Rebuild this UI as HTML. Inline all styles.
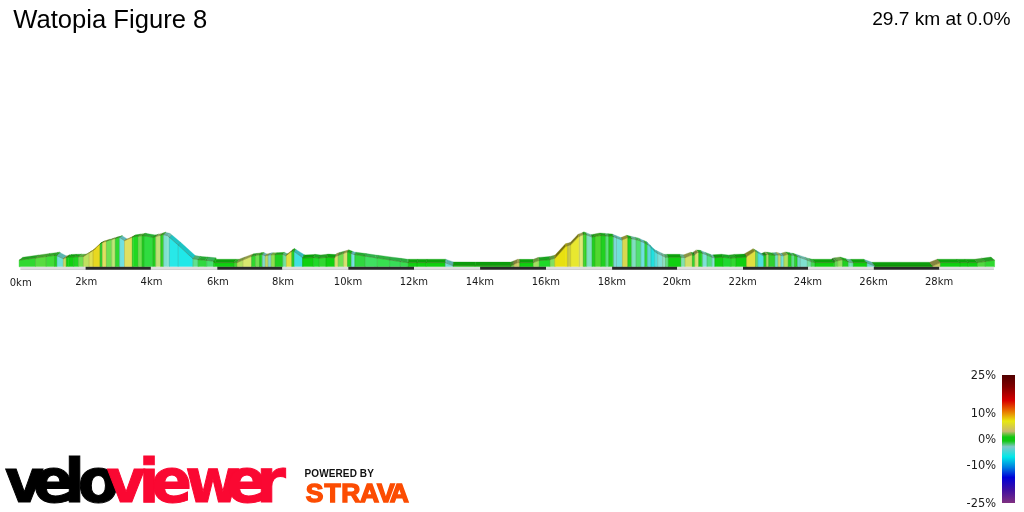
<!DOCTYPE html>
<html lang="en">
<head>
<meta charset="utf-8">
<title>Watopia Figure 8</title>
<style>
html,body{margin:0;padding:0;background:#fff;}
body{width:1024px;height:512px;position:relative;overflow:hidden;font-family:"Liberation Sans",sans-serif;color:#000;}
.title{position:absolute;left:13.3px;top:3.6px;font-size:25.6px;line-height:30px;white-space:nowrap;}
.stat{position:absolute;right:13.5px;top:7.6px;font-size:19.15px;line-height:22px;white-space:nowrap;}
svg.prof{position:absolute;left:0;top:0;}
.xl text{font-family:"DejaVu Sans","Liberation Sans",sans-serif;font-size:10px;fill:#1a1a1a;}
.lg text{font-family:"DejaVu Sans","Liberation Sans",sans-serif;font-size:11.4px;fill:#1a1a1a;}
.logo{position:absolute;left:0;top:440px;font-family:"DejaVu Sans","Liberation Sans",sans-serif;font-weight:bold;font-size:60px;stroke-width:1px;}
.pw{position:absolute;left:304.6px;top:468px;font-weight:bold;font-size:10px;line-height:12px;letter-spacing:0.1px;white-space:nowrap;color:#111;}
.strava{position:absolute;left:295px;top:475px;font-family:"Liberation Sans",sans-serif;font-weight:bold;font-size:26.5px;fill:#fc4c02;stroke:#fc4c02;stroke-width:1.4px;}
</style>
</head>
<body>
<div class="title">Watopia Figure 8</div>
<div class="stat">29.7 km at 0.0%</div>
<svg class="prof" width="1024" height="512" viewBox="0 0 1024 512">
<g stroke-width="0.3" stroke-linejoin="round">
<polygon points="19.10,260.20 35.50,258.00 38.99,254.98 22.71,257.25" fill="#23a023" stroke="#23a023"/>
<polygon points="35.50,258.00 46.25,256.50 49.66,253.44 38.99,254.98" fill="#41a32f" stroke="#41a32f"/>
<polygon points="46.25,256.50 54.50,255.48 57.84,252.39 49.66,253.44" fill="#2fa429" stroke="#2fa429"/>
<polygon points="54.50,255.48 56.00,255.30 59.33,252.20 57.84,252.39" fill="#179b17" stroke="#179b17"/>
<polygon points="56.00,255.30 57.00,255.77 60.33,252.72 59.33,252.20" fill="#1aa91a" stroke="#1aa91a"/>
<polygon points="57.00,255.77 63.30,258.70 66.58,255.96 60.33,252.72" fill="#5bb6af" stroke="#5bb6af"/>
<polygon points="63.30,258.70 66.00,257.60 69.26,255.00 66.58,255.96" fill="#869045" stroke="#869045"/>
<polygon points="66.00,257.60 66.30,257.53 69.56,254.94 69.26,255.00" fill="#909b4a" stroke="#909b4a"/>
<polygon points="66.30,257.53 68.70,257.00 71.94,254.42 69.56,254.94" fill="#0b950b" stroke="#0b950b"/>
<polygon points="68.70,257.00 73.60,256.83 76.80,254.29 71.94,254.42" fill="#0ca00c" stroke="#0ca00c"/>
<polygon points="73.60,256.83 78.50,256.67 81.67,254.16 76.80,254.29" fill="#18a318" stroke="#18a318"/>
<polygon points="78.50,256.67 83.40,256.50 86.53,254.12 81.67,254.16" fill="#56ac3d" stroke="#56ac3d"/>
<polygon points="83.40,256.50 89.20,252.85 92.29,250.67 86.53,254.12" fill="#75883a" stroke="#75883a"/>
<polygon points="89.20,252.85 93.10,250.40 96.16,248.36 92.29,250.67" fill="#888830" stroke="#888830"/>
<polygon points="93.10,250.40 100.00,243.94 103.01,242.14 96.16,248.36" fill="#7a7110" stroke="#7a7110"/>
<polygon points="100.00,243.94 100.90,243.10 103.90,241.31 103.01,242.14" fill="#196d19" stroke="#196d19"/>
<polygon points="100.90,243.10 102.40,242.55 105.39,240.79 103.90,241.31" fill="#208d20" stroke="#208d20"/>
<polygon points="102.40,242.55 105.00,241.60 107.97,239.88 105.39,240.79" fill="#989841" stroke="#989841"/>
<polygon points="105.00,241.60 106.40,241.17 109.36,239.47 107.97,239.88" fill="#9c9c42" stroke="#9c9c42"/>
<polygon points="106.40,241.17 111.80,239.51 114.72,237.88 109.36,239.47" fill="#4e9c37" stroke="#4e9c37"/>
<polygon points="111.80,239.51 115.30,238.43 118.20,236.86 114.72,237.88" fill="#85a153" stroke="#85a153"/>
<polygon points="115.30,238.43 119.30,237.20 122.17,235.69 118.20,236.86" fill="#219621" stroke="#219621"/>
<polygon points="119.30,237.20 119.60,237.40 122.46,235.89 122.17,235.69" fill="#27b227" stroke="#27b227"/>
<polygon points="119.60,237.40 124.50,240.60 127.33,238.95 122.46,235.89" fill="#5cb8b8" stroke="#5cb8b8"/>
<polygon points="124.50,240.60 132.30,237.23 135.07,235.32 127.33,238.95" fill="#94943f" stroke="#94943f"/>
<polygon points="132.30,237.23 133.30,236.80 136.06,234.86 135.07,235.32" fill="#158f15" stroke="#158f15"/>
<polygon points="133.30,236.80 138.20,236.19 140.93,234.07 136.06,234.86" fill="#17a117" stroke="#17a117"/>
<polygon points="138.20,236.19 142.10,235.71 144.80,233.45 140.93,234.07" fill="#53a73b" stroke="#53a73b"/>
<polygon points="142.10,235.71 143.00,235.60 145.69,233.30 144.80,233.45" fill="#179b17" stroke="#179b17"/>
<polygon points="143.00,235.60 144.00,235.77 146.68,233.48 145.69,233.30" fill="#19a419" stroke="#19a419"/>
<polygon points="144.00,235.77 152.90,237.30 155.52,235.05 146.68,233.48" fill="#26ae32" stroke="#26ae32"/>
<polygon points="152.90,237.30 155.80,236.49 158.40,234.25 155.52,235.05" fill="#169216" stroke="#169216"/>
<polygon points="155.80,236.49 160.70,235.12 163.26,232.90 158.40,234.25" fill="#879d54" stroke="#879d54"/>
<polygon points="160.70,235.12 162.90,234.50 165.44,232.30 163.26,232.90" fill="#219216" stroke="#219216"/>
<polygon points="162.90,234.50 163.60,234.68 166.14,232.46 165.44,232.30" fill="#26a619" stroke="#26a619"/>
<polygon points="163.60,234.68 167.50,235.70 170.01,233.34 166.14,232.46" fill="#66b2a6" stroke="#66b2a6"/>
<polygon points="167.50,235.70 169.50,237.44 171.99,235.01 170.01,233.34" fill="#6bbcae" stroke="#6bbcae"/>
<polygon points="169.50,237.44 178.20,245.00 180.63,242.26 171.99,235.01" fill="#21c3c3" stroke="#21c3c3"/>
<polygon points="178.20,245.00 192.90,258.70 195.22,255.56 180.63,242.26" fill="#1bc4c4" stroke="#1bc4c4"/>
<polygon points="192.90,258.70 198.10,259.59 200.38,256.36 195.22,255.56" fill="#4cb172" stroke="#4cb172"/>
<polygon points="198.10,259.59 198.75,259.70 201.03,256.46 200.38,256.36" fill="#26ab32" stroke="#26ab32"/>
<polygon points="198.75,259.70 205.00,260.20 207.23,256.89 201.03,256.46" fill="#25a932" stroke="#25a932"/>
<polygon points="205.00,260.20 206.70,260.40 208.92,257.07 207.23,256.89" fill="#25aa32" stroke="#25aa32"/>
<polygon points="206.70,260.40 213.60,261.20 215.77,257.80 208.92,257.07" fill="#38b058" stroke="#38b058"/>
<polygon points="213.60,261.20 214.50,262.60 216.66,259.20 215.77,257.80" fill="#0db20d" stroke="#0db20d"/>
<polygon points="214.50,262.60 234.00,262.60 236.02,259.20 216.66,259.20" fill="#0ca20c" stroke="#0ca20c"/>
<polygon points="234.00,262.60 237.00,262.60 239.00,259.20 236.02,259.20" fill="#31a825" stroke="#31a825"/>
<polygon points="237.00,262.60 242.90,260.05 244.85,257.00 239.00,259.20" fill="#74943f" stroke="#74943f"/>
<polygon points="242.90,260.05 251.60,256.30 253.49,253.87 244.85,257.00" fill="#8f994a" stroke="#8f994a"/>
<polygon points="251.60,256.30 255.50,255.50 257.36,253.30 253.49,253.87" fill="#229c22" stroke="#229c22"/>
<polygon points="255.50,255.50 259.50,254.69 261.33,252.70 257.36,253.30" fill="#51a239" stroke="#51a239"/>
<polygon points="259.50,254.69 261.40,254.30 263.22,252.40 261.33,252.70" fill="#179617" stroke="#179617"/>
<polygon points="261.40,254.30 262.40,254.68 264.21,252.78 263.22,252.40" fill="#19a719" stroke="#19a719"/>
<polygon points="262.40,254.68 265.30,255.80 267.09,253.89 264.21,252.78" fill="#67aea7" stroke="#67aea7"/>
<polygon points="265.30,255.80 268.20,255.18 269.97,253.26 267.09,253.89" fill="#8a9c45" stroke="#8a9c45"/>
<polygon points="268.20,255.18 270.00,254.80 271.75,252.87 269.97,253.26" fill="#5c9c96" stroke="#5c9c96"/>
<polygon points="270.00,254.80 271.20,254.75 272.94,252.82 271.75,252.87" fill="#62a6a0" stroke="#62a6a0"/>
<polygon points="271.20,254.75 275.10,254.60 276.81,252.66 272.94,252.82" fill="#6eac3d" stroke="#6eac3d"/>
<polygon points="275.10,254.60 282.90,254.30 284.56,252.33 276.81,252.66" fill="#18a018" stroke="#18a018"/>
<polygon points="282.90,254.30 285.80,255.80 287.44,253.82 284.56,252.33" fill="#5bb682" stroke="#5bb682"/>
<polygon points="285.80,255.80 286.30,255.42 287.93,253.44 287.44,253.82" fill="#40805c" stroke="#40805c"/>
<polygon points="286.30,255.42 291.80,251.26 293.39,249.26 287.93,253.44" fill="#808024" stroke="#808024"/>
<polygon points="291.80,251.26 292.80,250.50 294.38,248.50 293.39,249.26" fill="#127712" stroke="#127712"/>
<polygon points="292.80,250.50 294.30,251.59 295.87,249.45 294.38,248.50" fill="#1aac1a" stroke="#1aac1a"/>
<polygon points="294.30,251.59 302.10,257.25 303.61,254.25 295.87,249.45" fill="#35baba" stroke="#35baba"/>
<polygon points="302.10,257.25 302.60,257.67 304.11,254.61 303.61,254.25" fill="#35bbbb" stroke="#35bbbb"/>
<polygon points="302.60,257.67 303.00,258.00 304.51,254.90 304.11,254.61" fill="#0dae0d" stroke="#0dae0d"/>
<polygon points="303.00,258.00 313.30,257.53 314.73,254.40 304.51,254.90" fill="#0c9f0c" stroke="#0c9f0c"/>
<polygon points="313.30,257.53 314.00,257.50 315.43,254.36 314.73,254.40" fill="#18a51e" stroke="#18a51e"/>
<polygon points="314.00,257.50 319.00,258.10 320.39,254.95 315.43,254.36" fill="#19aa1f" stroke="#19aa1f"/>
<polygon points="319.00,258.10 319.20,258.08 320.59,254.93 320.39,254.95" fill="#18a21e" stroke="#18a21e"/>
<polygon points="319.20,258.08 326.00,257.40 327.34,254.23 320.59,254.93" fill="#24a224" stroke="#24a224"/>
<polygon points="326.00,257.40 327.00,257.30 328.33,254.12 327.34,254.23" fill="#0c9c0c" stroke="#0c9c0c"/>
<polygon points="327.00,257.30 334.80,257.70 336.07,254.57 328.33,254.12" fill="#0ca20c" stroke="#0ca20c"/>
<polygon points="334.80,257.70 335.80,256.30 337.07,253.25 336.07,254.57" fill="#6c7038" stroke="#6c7038"/>
<polygon points="335.80,256.30 338.20,255.40 339.45,252.56 337.07,253.25" fill="#92974b" stroke="#92974b"/>
<polygon points="338.20,255.40 343.60,253.37 344.81,250.99 339.45,252.56" fill="#4b9736" stroke="#4b9736"/>
<polygon points="343.60,253.37 347.50,251.90 348.68,249.86 344.81,250.99" fill="#92974b" stroke="#92974b"/>
<polygon points="347.50,251.90 351.40,253.49 352.55,251.32 348.68,249.86" fill="#19a819" stroke="#19a819"/>
<polygon points="351.40,253.49 353.40,254.30 354.54,252.03 352.55,251.32" fill="#5ab5b5" stroke="#5ab5b5"/>
<polygon points="353.40,254.30 354.80,254.52 355.93,252.18 354.54,252.03" fill="#58b1b1" stroke="#58b1b1"/>
<polygon points="354.80,254.52 365.10,256.14 366.15,253.58 355.93,252.18" fill="#25aa32" stroke="#25aa32"/>
<polygon points="365.10,256.14 375.00,257.70 375.98,254.97 366.15,253.58" fill="#32b14b" stroke="#32b14b"/>
<polygon points="375.00,257.70 377.30,258.05 378.26,255.28 375.98,254.97" fill="#32b14b" stroke="#32b14b"/>
<polygon points="377.30,258.05 389.60,259.92 390.47,256.92 378.26,255.28" fill="#2cb13f" stroke="#2cb13f"/>
<polygon points="389.60,259.92 400.40,261.57 401.19,258.33 390.47,256.92" fill="#2cad45" stroke="#2cad45"/>
<polygon points="400.40,261.57 407.20,262.60 407.94,259.22 401.19,258.33" fill="#2cad3f" stroke="#2cad3f"/>
<polygon points="407.20,262.60 408.20,262.60 408.93,259.20 407.94,259.22" fill="#2bab3e" stroke="#2bab3e"/>
<polygon points="408.20,262.60 417.00,262.60 417.67,259.20 408.93,259.20" fill="#0ca20c" stroke="#0ca20c"/>
<polygon points="417.00,262.60 426.30,262.60 426.90,259.20 417.67,259.20" fill="#0ca20c" stroke="#0ca20c"/>
<polygon points="426.30,262.60 445.30,262.60 445.76,259.19 426.90,259.20" fill="#0ca20c" stroke="#0ca20c"/>
<polygon points="445.30,262.60 446.30,263.10 446.75,259.65 445.76,259.19" fill="#5bb0a9" stroke="#5bb0a9"/>
<polygon points="446.30,263.10 453.10,265.60 453.50,261.90 446.75,259.65" fill="#5aaea7" stroke="#5aaea7"/>
<polygon points="453.10,265.60 475.00,265.70 475.24,262.00 453.50,261.90" fill="#0c9c0c" stroke="#0c9c0c"/>
<polygon points="475.00,265.70 510.90,265.80 510.87,262.10 475.24,262.00" fill="#0c9c0c" stroke="#0c9c0c"/>
<polygon points="510.90,265.80 513.80,264.44 513.75,260.90 510.87,262.10" fill="#3e8729" stroke="#3e8729"/>
<polygon points="513.80,264.44 517.70,262.60 517.62,259.28 513.75,260.90" fill="#82823e" stroke="#82823e"/>
<polygon points="517.70,262.60 519.70,262.60 519.61,259.31 517.62,259.28" fill="#9c9c4a" stroke="#9c9c4a"/>
<polygon points="519.70,262.60 533.40,262.60 533.20,259.35 519.61,259.31" fill="#0ca20c" stroke="#0ca20c"/>
<polygon points="533.40,262.60 538.20,260.70 537.97,257.46 533.20,259.35" fill="#6b9640" stroke="#6b9640"/>
<polygon points="538.20,260.70 539.20,260.62 538.96,257.38 537.97,257.46" fill="#79a948" stroke="#79a948"/>
<polygon points="539.20,260.62 550.00,259.70 549.68,256.50 538.96,257.38" fill="#18a31e" stroke="#18a31e"/>
<polygon points="550.00,259.70 554.80,258.13 554.45,255.19 549.68,256.50" fill="#589a42" stroke="#589a42"/>
<polygon points="554.80,258.13 555.50,257.90 555.14,254.99 554.45,255.19" fill="#a09a0b" stroke="#a09a0b"/>
<polygon points="555.50,257.90 565.90,246.20 565.46,243.81 555.14,254.99" fill="#747008" stroke="#747008"/>
<polygon points="565.90,246.20 567.70,245.69 567.25,243.31 565.46,243.81" fill="#a39d0b" stroke="#a39d0b"/>
<polygon points="567.70,245.69 570.60,244.86 570.13,242.52 567.25,243.31" fill="#8c8c38" stroke="#8c8c38"/>
<polygon points="570.60,244.86 570.80,244.80 570.33,242.46 570.13,242.52" fill="#a3a321" stroke="#a3a321"/>
<polygon points="570.80,244.80 578.70,236.50 578.17,234.24 570.33,242.46" fill="#747418" stroke="#747418"/>
<polygon points="578.70,236.50 579.40,236.21 578.86,233.96 578.17,234.24" fill="#9b9b20" stroke="#9b9b20"/>
<polygon points="579.40,236.21 583.30,234.60 582.74,232.39 578.86,233.96" fill="#959b50" stroke="#959b50"/>
<polygon points="583.30,234.60 584.50,234.10 583.93,231.89 582.74,232.39" fill="#208b15" stroke="#208b15"/>
<polygon points="584.50,234.10 586.70,234.95 586.11,232.70 583.93,231.89" fill="#26a719" stroke="#26a719"/>
<polygon points="586.70,234.95 592.00,237.00 591.37,234.65 586.11,232.70" fill="#67b49a" stroke="#67b49a"/>
<polygon points="592.00,237.00 592.10,236.98 591.47,234.63 591.37,234.65" fill="#5da48c" stroke="#5da48c"/>
<polygon points="592.10,236.98 595.00,236.47 594.35,234.06 591.47,234.63" fill="#179817" stroke="#179817"/>
<polygon points="595.00,236.47 600.50,235.50 599.81,233.00 594.35,234.06" fill="#3a9e23" stroke="#3a9e23"/>
<polygon points="600.50,235.50 600.90,235.53 600.21,233.03 599.81,233.00" fill="#3ea925" stroke="#3ea925"/>
<polygon points="600.90,235.53 605.80,235.89 605.07,233.41 600.21,233.03" fill="#19a319" stroke="#19a319"/>
<polygon points="605.80,235.89 608.70,236.10 607.95,233.63 605.07,233.41" fill="#4baf64" stroke="#4baf64"/>
<polygon points="608.70,236.10 612.80,236.40 612.02,233.95 607.95,233.63" fill="#19a319" stroke="#19a319"/>
<polygon points="612.80,236.40 613.60,236.72 612.81,234.27 612.02,233.95" fill="#19a819" stroke="#19a819"/>
<polygon points="613.60,236.72 616.50,237.88 615.69,235.44 612.81,234.27" fill="#67aeae" stroke="#67aeae"/>
<polygon points="616.50,237.88 621.80,240.00 620.95,237.58 615.69,235.44" fill="#5ab4ae" stroke="#5ab4ae"/>
<polygon points="621.80,240.00 622.40,239.76 621.55,237.34 620.95,237.58" fill="#4b9690" stroke="#4b9690"/>
<polygon points="622.40,239.76 627.50,237.70 626.61,235.30 621.55,237.34" fill="#909035" stroke="#909035"/>
<polygon points="627.50,237.70 627.80,237.77 626.91,235.36 626.61,235.30" fill="#acac3f" stroke="#acac3f"/>
<polygon points="627.80,237.77 631.70,238.69 630.78,236.25 626.91,235.36" fill="#19a519" stroke="#19a519"/>
<polygon points="631.70,238.69 636.10,239.72 635.15,237.24 630.78,236.25" fill="#65b298" stroke="#65b298"/>
<polygon points="636.10,239.72 639.00,240.40 638.02,237.90 635.15,237.24" fill="#3fb259" stroke="#3fb259"/>
<polygon points="639.00,240.40 640.90,241.27 639.91,238.74 638.02,237.90" fill="#40b55a" stroke="#40b55a"/>
<polygon points="640.90,241.27 644.80,243.04 643.78,240.49 639.91,238.74" fill="#5ab5b5" stroke="#5ab5b5"/>
<polygon points="644.80,243.04 647.60,244.32 646.56,241.74 643.78,240.49" fill="#26af33" stroke="#26af33"/>
<polygon points="647.60,244.32 648.00,244.50 646.96,241.92 646.56,241.74" fill="#4dafaf" stroke="#4dafaf"/>
<polygon points="648.00,244.50 651.00,247.54 649.94,244.92 646.96,241.92" fill="#51b7b7" stroke="#51b7b7"/>
<polygon points="651.00,247.54 654.80,251.39 653.71,248.68 649.94,244.92" fill="#1bbebe" stroke="#1bbebe"/>
<polygon points="654.80,251.39 655.80,252.40 654.70,249.67 653.71,248.68" fill="#44bebe" stroke="#44bebe"/>
<polygon points="655.80,252.40 657.70,253.35 656.59,250.58 654.70,249.67" fill="#41b6b6" stroke="#41b6b6"/>
<polygon points="657.70,253.35 662.60,255.80 661.45,252.92 656.59,250.58" fill="#68b6b0" stroke="#68b6b0"/>
<polygon points="662.60,255.80 665.50,257.25 664.33,254.31 661.45,252.92" fill="#75b69c" stroke="#75b69c"/>
<polygon points="665.50,257.25 668.40,257.25 667.21,254.30 664.33,254.31" fill="#4aae63" stroke="#4aae63"/>
<polygon points="668.40,257.25 681.10,257.25 679.81,254.30 667.21,254.30" fill="#0ca20c" stroke="#0ca20c"/>
<polygon points="681.10,257.25 685.00,257.70 683.68,254.86 679.81,254.30" fill="#64b08a" stroke="#64b08a"/>
<polygon points="685.00,257.70 691.90,254.80 690.53,252.14 683.68,254.86" fill="#8a9545" stroke="#8a9545"/>
<polygon points="691.90,254.80 692.40,254.93 691.03,252.28 690.53,252.14" fill="#a6b253" stroke="#a6b253"/>
<polygon points="692.40,254.93 693.80,255.30 692.42,252.69 691.03,252.28" fill="#19a619" stroke="#19a619"/>
<polygon points="693.80,255.30 694.80,254.56 693.41,251.97 692.42,252.69" fill="#127812" stroke="#127812"/>
<polygon points="694.80,254.56 697.70,252.40 696.29,249.89 693.41,251.97" fill="#7d8140" stroke="#7d8140"/>
<polygon points="697.70,252.40 698.70,252.53 697.28,250.01 696.29,249.89" fill="#aab058" stroke="#aab058"/>
<polygon points="698.70,252.53 701.60,252.90 700.16,250.33 697.28,250.01" fill="#19a419" stroke="#19a419"/>
<polygon points="701.60,252.90 702.60,253.31 701.15,250.71 700.16,250.33" fill="#19a819" stroke="#19a819"/>
<polygon points="702.60,253.31 707.00,255.10 705.52,252.42 701.15,250.71" fill="#67b5ae" stroke="#67b5ae"/>
<polygon points="707.00,255.10 711.90,257.09 710.39,254.31 705.52,252.42" fill="#40b567" stroke="#40b567"/>
<polygon points="711.90,257.09 713.40,257.70 711.87,254.89 710.39,254.31" fill="#67b5a8" stroke="#67b5a8"/>
<polygon points="713.40,257.70 714.80,257.64 713.26,254.80 711.87,254.89" fill="#62ab9f" stroke="#62ab9f"/>
<polygon points="714.80,257.64 723.10,257.25 721.50,254.23 713.26,254.80" fill="#0c9f0c" stroke="#0c9f0c"/>
<polygon points="723.10,257.25 730.00,258.20 728.35,255.02 721.50,254.23" fill="#19aa25" stroke="#19aa25"/>
<polygon points="730.00,258.20 730.90,258.12 729.24,254.92 728.35,255.02" fill="#18a324" stroke="#18a324"/>
<polygon points="730.90,258.12 735.80,257.70 734.11,254.39 729.24,254.92" fill="#24a324" stroke="#24a324"/>
<polygon points="735.80,257.70 746.20,257.25 744.43,254.08 734.11,254.39" fill="#0c9f0c" stroke="#0c9f0c"/>
<polygon points="746.20,257.25 746.70,256.77 744.93,253.66 744.43,254.08" fill="#086c08" stroke="#086c08"/>
<polygon points="746.70,256.77 747.20,256.30 745.42,253.25 744.93,253.66" fill="#757521" stroke="#757521"/>
<polygon points="747.20,256.30 755.00,250.90 753.17,248.69 745.42,253.25" fill="#848425" stroke="#848425"/>
<polygon points="755.00,250.90 755.50,251.20 753.66,248.97 753.17,248.69" fill="#b7b734" stroke="#b7b734"/>
<polygon points="755.50,251.20 757.90,252.61 756.05,250.36 753.66,248.97" fill="#4eb14e" stroke="#4eb14e"/>
<polygon points="757.90,252.61 763.30,255.80 761.41,253.47 756.05,250.36" fill="#41b7b7" stroke="#41b7b7"/>
<polygon points="763.30,255.80 763.80,255.61 761.90,253.27 761.41,253.47" fill="#369797" stroke="#369797"/>
<polygon points="763.80,255.61 766.25,254.67 764.33,252.29 761.90,253.27" fill="#158c15" stroke="#158c15"/>
<polygon points="766.25,254.67 767.20,254.30 765.28,251.91 764.33,252.29" fill="#6c9240" stroke="#6c9240"/>
<polygon points="767.20,254.30 768.70,254.52 766.77,252.12 765.28,251.91" fill="#7eaa4b" stroke="#7eaa4b"/>
<polygon points="768.70,254.52 774.00,255.30 772.03,252.90 766.77,252.12" fill="#25a425" stroke="#25a425"/>
<polygon points="774.00,255.30 775.00,255.20 773.02,252.80 772.03,252.90" fill="#249c24" stroke="#249c24"/>
<polygon points="775.00,255.20 778.00,254.89 776.00,252.49 773.02,252.80" fill="#54a890" stroke="#54a890"/>
<polygon points="778.00,254.89 778.90,254.80 776.89,252.40 776.00,252.49" fill="#96a254" stroke="#96a254"/>
<polygon points="778.90,254.80 780.90,255.30 778.88,252.90 776.89,252.40" fill="#9fac59" stroke="#9fac59"/>
<polygon points="780.90,255.30 782.90,255.80 780.86,253.40 778.88,252.90" fill="#59b2ac" stroke="#59b2ac"/>
<polygon points="782.90,255.80 783.80,255.52 781.75,253.12 780.86,253.40" fill="#4d9b96" stroke="#4d9b96"/>
<polygon points="783.80,255.52 787.70,254.30 785.63,251.90 781.75,253.12" fill="#7a9b42" stroke="#7a9b42"/>
<polygon points="787.70,254.30 788.20,254.40 786.12,252.00 785.63,251.90" fill="#8bb14c" stroke="#8bb14c"/>
<polygon points="788.20,254.40 791.60,255.05 789.50,252.65 786.12,252.00" fill="#19a519" stroke="#19a519"/>
<polygon points="791.60,255.05 794.60,255.63 792.47,253.23 789.50,252.65" fill="#4cb172" stroke="#4cb172"/>
<polygon points="794.60,255.63 795.50,255.80 793.37,253.38 792.47,253.23" fill="#19a519" stroke="#19a519"/>
<polygon points="795.50,255.80 797.50,256.54 795.35,254.02 793.37,253.38" fill="#19a719" stroke="#19a719"/>
<polygon points="797.50,256.54 800.40,257.61 798.23,254.96 795.35,254.02" fill="#5aaea1" stroke="#5aaea1"/>
<polygon points="800.40,257.61 807.30,260.16 805.08,257.18 798.23,254.96" fill="#67b4a7" stroke="#67b4a7"/>
<polygon points="807.30,260.16 811.20,261.60 808.95,258.44 805.08,257.18" fill="#5ab480" stroke="#5ab480"/>
<polygon points="811.20,261.60 815.00,262.60 812.72,259.20 808.95,258.44" fill="#33ac3f" stroke="#33ac3f"/>
<polygon points="815.00,262.60 833.80,262.60 831.38,259.20 812.72,259.20" fill="#0ca20c" stroke="#0ca20c"/>
<polygon points="833.80,262.60 834.80,261.86 832.38,258.54 831.38,259.20" fill="#097809" stroke="#097809"/>
<polygon points="834.80,261.86 835.70,261.20 833.27,257.96 832.38,258.54" fill="#377d2e" stroke="#377d2e"/>
<polygon points="835.70,261.20 837.70,260.77 835.26,257.71 833.27,257.96" fill="#459b39" stroke="#459b39"/>
<polygon points="837.70,260.77 842.60,259.70 840.12,257.00 835.26,257.71" fill="#67a145" stroke="#67a145"/>
<polygon points="842.60,259.70 848.40,261.86 845.88,258.69 840.12,257.00" fill="#19a719" stroke="#19a719"/>
<polygon points="848.40,261.86 850.40,262.60 847.86,259.30 845.88,258.69" fill="#5ab48d" stroke="#5ab48d"/>
<polygon points="850.40,262.60 853.30,262.60 850.74,259.28 847.86,259.30" fill="#57ae89" stroke="#57ae89"/>
<polygon points="853.30,262.60 866.00,262.60 863.35,259.20 850.74,259.28" fill="#0ca20c" stroke="#0ca20c"/>
<polygon points="866.00,262.60 867.00,262.99 864.34,259.54 863.35,259.20" fill="#0ca70c" stroke="#0ca70c"/>
<polygon points="867.00,262.99 874.80,266.00 872.08,262.21 864.34,259.54" fill="#5aaea7" stroke="#5aaea7"/>
<polygon points="874.80,266.00 932.60,266.00 929.45,262.23 872.08,262.21" fill="#0c9c0c" stroke="#0c9c0c"/>
<polygon points="932.60,266.00 940.40,262.60 937.20,259.20 929.45,262.23" fill="#84843f" stroke="#84843f"/>
<polygon points="940.40,262.60 959.90,262.60 956.55,259.20 937.20,259.20" fill="#0ca20c" stroke="#0ca20c"/>
<polygon points="959.90,262.60 968.20,262.60 964.79,259.20 956.55,259.20" fill="#0ca20c" stroke="#0ca20c"/>
<polygon points="968.20,262.60 977.50,262.60 974.02,259.21 964.79,259.20" fill="#0ca20c" stroke="#0ca20c"/>
<polygon points="977.50,262.60 985.30,261.51 981.76,258.25 974.02,259.21" fill="#3ba02f" stroke="#3ba02f"/>
<polygon points="985.30,261.51 994.60,260.20 991.00,257.05 981.76,258.25" fill="#23a023" stroke="#23a023"/>
</g>
<g stroke-width="0.4">
<polygon points="19.10,260.20 35.50,258.00 35.50,266.80 19.10,266.80" fill="#30d830" stroke="#30d830"/>
<polygon points="35.50,258.00 46.25,256.50 46.25,266.80 35.50,266.80" fill="#58dc40" stroke="#58dc40"/>
<polygon points="46.25,256.50 54.50,255.48 54.50,266.80 46.25,266.80" fill="#40dc38" stroke="#40dc38"/>
<polygon points="54.50,255.48 56.00,255.30 56.00,266.80 54.50,266.80" fill="#20d020" stroke="#20d020"/>
<polygon points="56.00,255.30 57.00,255.77 57.00,266.80 56.00,266.80" fill="#20d020" stroke="#20d020"/>
<polygon points="57.00,255.77 63.30,258.70 63.30,266.80 57.00,266.80" fill="#70e0d8" stroke="#70e0d8"/>
<polygon points="63.30,258.70 66.00,257.60 66.00,266.80 63.30,266.80" fill="#c8d868" stroke="#c8d868"/>
<polygon points="66.00,257.60 66.30,257.53 66.30,266.80 66.00,266.80" fill="#c8d868" stroke="#c8d868"/>
<polygon points="66.30,257.53 68.70,257.00 68.70,266.80 66.30,266.80" fill="#10d010" stroke="#10d010"/>
<polygon points="68.70,257.00 73.60,256.83 73.60,266.80 68.70,266.80" fill="#10d010" stroke="#10d010"/>
<polygon points="73.60,256.83 78.50,256.67 78.50,266.80 73.60,266.80" fill="#20d420" stroke="#20d420"/>
<polygon points="78.50,256.67 83.40,256.50 83.40,266.80 78.50,266.80" fill="#70e050" stroke="#70e050"/>
<polygon points="83.40,256.50 89.20,252.85 89.20,266.80 83.40,266.80" fill="#c0e060" stroke="#c0e060"/>
<polygon points="89.20,252.85 93.10,250.40 93.10,266.80 89.20,266.80" fill="#e0e050" stroke="#e0e050"/>
<polygon points="93.10,250.40 100.00,243.94 100.00,266.80 93.10,266.80" fill="#e8d820" stroke="#e8d820"/>
<polygon points="100.00,243.94 100.90,243.10 100.90,266.80 100.00,266.80" fill="#30d030" stroke="#30d030"/>
<polygon points="100.90,243.10 102.40,242.55 102.40,266.80 100.90,266.80" fill="#30d030" stroke="#30d030"/>
<polygon points="102.40,242.55 105.00,241.60 105.00,266.80 102.40,266.80" fill="#e0e060" stroke="#e0e060"/>
<polygon points="105.00,241.60 106.40,241.17 106.40,266.80 105.00,266.80" fill="#e0e060" stroke="#e0e060"/>
<polygon points="106.40,241.17 111.80,239.51 111.80,266.80 106.40,266.80" fill="#70e050" stroke="#70e050"/>
<polygon points="111.80,239.51 115.30,238.43 115.30,266.80 111.80,266.80" fill="#c0e878" stroke="#c0e878"/>
<polygon points="115.30,238.43 119.30,237.20 119.30,266.80 115.30,266.80" fill="#30d830" stroke="#30d830"/>
<polygon points="119.30,237.20 119.60,237.40 119.60,266.80 119.30,266.80" fill="#30d830" stroke="#30d830"/>
<polygon points="119.60,237.40 124.50,240.60 124.50,266.80 119.60,266.80" fill="#70e0e0" stroke="#70e0e0"/>
<polygon points="124.50,240.60 132.30,237.23 132.30,266.80 124.50,266.80" fill="#e0e060" stroke="#e0e060"/>
<polygon points="132.30,237.23 133.30,236.80 133.30,266.80 132.30,266.80" fill="#20d820" stroke="#20d820"/>
<polygon points="133.30,236.80 138.20,236.19 138.20,266.80 133.30,266.80" fill="#20d820" stroke="#20d820"/>
<polygon points="138.20,236.19 142.10,235.71 142.10,266.80 138.20,266.80" fill="#70e050" stroke="#70e050"/>
<polygon points="142.10,235.71 143.00,235.60 143.00,266.80 142.10,266.80" fill="#20d020" stroke="#20d020"/>
<polygon points="143.00,235.60 144.00,235.77 144.00,266.80 143.00,266.80" fill="#20d020" stroke="#20d020"/>
<polygon points="144.00,235.77 152.90,237.30 152.90,266.80 144.00,266.80" fill="#30dc40" stroke="#30dc40"/>
<polygon points="152.90,237.30 155.80,236.49 155.80,266.80 152.90,266.80" fill="#20d020" stroke="#20d020"/>
<polygon points="155.80,236.49 160.70,235.12 160.70,266.80 155.80,266.80" fill="#c0e078" stroke="#c0e078"/>
<polygon points="160.70,235.12 162.90,234.50 162.90,266.80 160.70,266.80" fill="#30d020" stroke="#30d020"/>
<polygon points="162.90,234.50 163.60,234.68 163.60,266.80 162.90,266.80" fill="#30d020" stroke="#30d020"/>
<polygon points="163.60,234.68 167.50,235.70 167.50,266.80 163.60,266.80" fill="#80e0d0" stroke="#80e0d0"/>
<polygon points="167.50,235.70 169.50,237.44 169.50,266.80 167.50,266.80" fill="#80e0d0" stroke="#80e0d0"/>
<polygon points="169.50,237.44 178.20,245.00 178.20,266.80 169.50,266.80" fill="#28e8e8" stroke="#28e8e8"/>
<polygon points="178.20,245.00 192.90,258.70 192.90,266.80 178.20,266.80" fill="#20e8e8" stroke="#20e8e8"/>
<polygon points="192.90,258.70 198.10,259.59 198.10,266.80 192.90,266.80" fill="#60e090" stroke="#60e090"/>
<polygon points="198.10,259.59 198.75,259.70 198.75,266.80 198.10,266.80" fill="#30d840" stroke="#30d840"/>
<polygon points="198.75,259.70 205.00,260.20 205.00,266.80 198.75,266.80" fill="#30d840" stroke="#30d840"/>
<polygon points="205.00,260.20 206.70,260.40 206.70,266.80 205.00,266.80" fill="#30d840" stroke="#30d840"/>
<polygon points="206.70,260.40 213.60,261.20 213.60,266.80 206.70,266.80" fill="#48e070" stroke="#48e070"/>
<polygon points="213.60,261.20 214.50,262.60 214.50,266.80 213.60,266.80" fill="#10d010" stroke="#10d010"/>
<polygon points="214.50,262.60 234.00,262.60 234.00,266.80 214.50,266.80" fill="#10d010" stroke="#10d010"/>
<polygon points="234.00,262.60 237.00,262.60 237.00,266.80 234.00,266.80" fill="#40d830" stroke="#40d830"/>
<polygon points="237.00,262.60 242.90,260.05 242.90,266.80 237.00,266.80" fill="#b0e060" stroke="#b0e060"/>
<polygon points="242.90,260.05 251.60,256.30 251.60,266.80 242.90,266.80" fill="#d8e870" stroke="#d8e870"/>
<polygon points="251.60,256.30 255.50,255.50 255.50,266.80 251.60,266.80" fill="#30d830" stroke="#30d830"/>
<polygon points="255.50,255.50 259.50,254.69 259.50,266.80 255.50,266.80" fill="#70e050" stroke="#70e050"/>
<polygon points="259.50,254.69 261.40,254.30 261.40,266.80 259.50,266.80" fill="#20d020" stroke="#20d020"/>
<polygon points="261.40,254.30 262.40,254.68 262.40,266.80 261.40,266.80" fill="#20d020" stroke="#20d020"/>
<polygon points="262.40,254.68 265.30,255.80 265.30,266.80 262.40,266.80" fill="#80d8d0" stroke="#80d8d0"/>
<polygon points="265.30,255.80 268.20,255.18 268.20,266.80 265.30,266.80" fill="#c0d860" stroke="#c0d860"/>
<polygon points="268.20,255.18 270.00,254.80 270.00,266.80 268.20,266.80" fill="#80d8d0" stroke="#80d8d0"/>
<polygon points="270.00,254.80 271.20,254.75 271.20,266.80 270.00,266.80" fill="#80d8d0" stroke="#80d8d0"/>
<polygon points="271.20,254.75 275.10,254.60 275.10,266.80 271.20,266.80" fill="#90e050" stroke="#90e050"/>
<polygon points="275.10,254.60 282.90,254.30 282.90,266.80 275.10,266.80" fill="#20d020" stroke="#20d020"/>
<polygon points="282.90,254.30 285.80,255.80 285.80,266.80 282.90,266.80" fill="#70e0a0" stroke="#70e0a0"/>
<polygon points="285.80,255.80 286.30,255.42 286.30,266.80 285.80,266.80" fill="#70e0a0" stroke="#70e0a0"/>
<polygon points="286.30,255.42 291.80,251.26 291.80,266.80 286.30,266.80" fill="#e0e040" stroke="#e0e040"/>
<polygon points="291.80,251.26 292.80,250.50 292.80,266.80 291.80,266.80" fill="#20d020" stroke="#20d020"/>
<polygon points="292.80,250.50 294.30,251.59 294.30,266.80 292.80,266.80" fill="#20d020" stroke="#20d020"/>
<polygon points="294.30,251.59 302.10,257.25 302.10,266.80 294.30,266.80" fill="#40e0e0" stroke="#40e0e0"/>
<polygon points="302.10,257.25 302.60,257.67 302.60,266.80 302.10,266.80" fill="#40e0e0" stroke="#40e0e0"/>
<polygon points="302.60,257.67 303.00,258.00 303.00,266.80 302.60,266.80" fill="#10d010" stroke="#10d010"/>
<polygon points="303.00,258.00 313.30,257.53 313.30,266.80 303.00,266.80" fill="#10d010" stroke="#10d010"/>
<polygon points="313.30,257.53 314.00,257.50 314.00,266.80 313.30,266.80" fill="#20d828" stroke="#20d828"/>
<polygon points="314.00,257.50 319.00,258.10 319.00,266.80 314.00,266.80" fill="#20d828" stroke="#20d828"/>
<polygon points="319.00,258.10 319.20,258.08 319.20,266.80 319.00,266.80" fill="#20d828" stroke="#20d828"/>
<polygon points="319.20,258.08 326.00,257.40 326.00,266.80 319.20,266.80" fill="#30d830" stroke="#30d830"/>
<polygon points="326.00,257.40 327.00,257.30 327.00,266.80 326.00,266.80" fill="#10d010" stroke="#10d010"/>
<polygon points="327.00,257.30 334.80,257.70 334.80,266.80 327.00,266.80" fill="#10d010" stroke="#10d010"/>
<polygon points="334.80,257.70 335.80,256.30 335.80,266.80 334.80,266.80" fill="#d8e070" stroke="#d8e070"/>
<polygon points="335.80,256.30 338.20,255.40 338.20,266.80 335.80,266.80" fill="#d8e070" stroke="#d8e070"/>
<polygon points="338.20,255.40 343.60,253.37 343.60,266.80 338.20,266.80" fill="#70e050" stroke="#70e050"/>
<polygon points="343.60,253.37 347.50,251.90 347.50,266.80 343.60,266.80" fill="#d8e070" stroke="#d8e070"/>
<polygon points="347.50,251.90 351.40,253.49 351.40,266.80 347.50,266.80" fill="#20d020" stroke="#20d020"/>
<polygon points="351.40,253.49 353.40,254.30 353.40,266.80 351.40,266.80" fill="#70e0e0" stroke="#70e0e0"/>
<polygon points="353.40,254.30 354.80,254.52 354.80,266.80 353.40,266.80" fill="#70e0e0" stroke="#70e0e0"/>
<polygon points="354.80,254.52 365.10,256.14 365.10,266.80 354.80,266.80" fill="#30d840" stroke="#30d840"/>
<polygon points="365.10,256.14 375.00,257.70 375.00,266.80 365.10,266.80" fill="#40e060" stroke="#40e060"/>
<polygon points="375.00,257.70 377.30,258.05 377.30,266.80 375.00,266.80" fill="#40e060" stroke="#40e060"/>
<polygon points="377.30,258.05 389.60,259.92 389.60,266.80 377.30,266.80" fill="#38e050" stroke="#38e050"/>
<polygon points="389.60,259.92 400.40,261.57 400.40,266.80 389.60,266.80" fill="#38dc58" stroke="#38dc58"/>
<polygon points="400.40,261.57 407.20,262.60 407.20,266.80 400.40,266.80" fill="#38dc50" stroke="#38dc50"/>
<polygon points="407.20,262.60 408.20,262.60 408.20,266.80 407.20,266.80" fill="#38dc50" stroke="#38dc50"/>
<polygon points="408.20,262.60 417.00,262.60 417.00,266.80 408.20,266.80" fill="#10d010" stroke="#10d010"/>
<polygon points="417.00,262.60 426.30,262.60 426.30,266.80 417.00,266.80" fill="#10d010" stroke="#10d010"/>
<polygon points="426.30,262.60 445.30,262.60 445.30,266.80 426.30,266.80" fill="#10d010" stroke="#10d010"/>
<polygon points="445.30,262.60 446.30,263.10 446.30,266.80 445.30,266.80" fill="#70d8d0" stroke="#70d8d0"/>
<polygon points="446.30,263.10 453.10,265.60 453.10,266.80 446.30,266.80" fill="#70d8d0" stroke="#70d8d0"/>
<polygon points="453.10,265.60 475.00,265.70 475.00,266.80 453.10,266.80" fill="#10c810" stroke="#10c810"/>
<polygon points="475.00,265.70 510.90,265.80 510.90,266.80 475.00,266.80" fill="#10c810" stroke="#10c810"/>
<polygon points="510.90,265.80 513.80,264.44 513.80,266.80 510.90,266.80" fill="#60d040" stroke="#60d040"/>
<polygon points="513.80,264.44 517.70,262.60 517.70,266.80 513.80,266.80" fill="#c8c860" stroke="#c8c860"/>
<polygon points="517.70,262.60 519.70,262.60 519.70,266.80 517.70,266.80" fill="#c8c860" stroke="#c8c860"/>
<polygon points="519.70,262.60 533.40,262.60 533.40,266.80 519.70,266.80" fill="#10d010" stroke="#10d010"/>
<polygon points="533.40,262.60 538.20,260.70 538.20,266.80 533.40,266.80" fill="#a0e060" stroke="#a0e060"/>
<polygon points="538.20,260.70 539.20,260.62 539.20,266.80 538.20,266.80" fill="#a0e060" stroke="#a0e060"/>
<polygon points="539.20,260.62 550.00,259.70 550.00,266.80 539.20,266.80" fill="#20d828" stroke="#20d828"/>
<polygon points="550.00,259.70 554.80,258.13 554.80,266.80 550.00,266.80" fill="#80e060" stroke="#80e060"/>
<polygon points="554.80,258.13 555.50,257.90 555.50,266.80 554.80,266.80" fill="#e8e010" stroke="#e8e010"/>
<polygon points="555.50,257.90 565.90,246.20 565.90,266.80 555.50,266.80" fill="#e8e010" stroke="#e8e010"/>
<polygon points="565.90,246.20 567.70,245.69 567.70,266.80 565.90,266.80" fill="#e8e010" stroke="#e8e010"/>
<polygon points="567.70,245.69 570.60,244.86 570.60,266.80 567.70,266.80" fill="#c8c850" stroke="#c8c850"/>
<polygon points="570.60,244.86 570.80,244.80 570.80,266.80 570.60,266.80" fill="#e8e830" stroke="#e8e830"/>
<polygon points="570.80,244.80 578.70,236.50 578.70,266.80 570.80,266.80" fill="#e8e830" stroke="#e8e830"/>
<polygon points="578.70,236.50 579.40,236.21 579.40,266.80 578.70,266.80" fill="#e8e830" stroke="#e8e830"/>
<polygon points="579.40,236.21 583.30,234.60 583.30,266.80 579.40,266.80" fill="#e0e878" stroke="#e0e878"/>
<polygon points="583.30,234.60 584.50,234.10 584.50,266.80 583.30,266.80" fill="#30d020" stroke="#30d020"/>
<polygon points="584.50,234.10 586.70,234.95 586.70,266.80 584.50,266.80" fill="#30d020" stroke="#30d020"/>
<polygon points="586.70,234.95 592.00,237.00 592.00,266.80 586.70,266.80" fill="#80e0c0" stroke="#80e0c0"/>
<polygon points="592.00,237.00 592.10,236.98 592.10,266.80 592.00,266.80" fill="#80e0c0" stroke="#80e0c0"/>
<polygon points="592.10,236.98 595.00,236.47 595.00,266.80 592.10,266.80" fill="#20d020" stroke="#20d020"/>
<polygon points="595.00,236.47 600.50,235.50 600.50,266.80 595.00,266.80" fill="#50d830" stroke="#50d830"/>
<polygon points="600.50,235.50 600.90,235.53 600.90,266.80 600.50,266.80" fill="#50d830" stroke="#50d830"/>
<polygon points="600.90,235.53 605.80,235.89 605.80,266.80 600.90,266.80" fill="#20d020" stroke="#20d020"/>
<polygon points="605.80,235.89 608.70,236.10 608.70,266.80 605.80,266.80" fill="#60e080" stroke="#60e080"/>
<polygon points="608.70,236.10 612.80,236.40 612.80,266.80 608.70,266.80" fill="#20d020" stroke="#20d020"/>
<polygon points="612.80,236.40 613.60,236.72 613.60,266.80 612.80,266.80" fill="#20d020" stroke="#20d020"/>
<polygon points="613.60,236.72 616.50,237.88 616.50,266.80 613.60,266.80" fill="#80d8d8" stroke="#80d8d8"/>
<polygon points="616.50,237.88 621.80,240.00 621.80,266.80 616.50,266.80" fill="#70e0d8" stroke="#70e0d8"/>
<polygon points="621.80,240.00 622.40,239.76 622.40,266.80 621.80,266.80" fill="#70e0d8" stroke="#70e0d8"/>
<polygon points="622.40,239.76 627.50,237.70 627.50,266.80 622.40,266.80" fill="#d8d850" stroke="#d8d850"/>
<polygon points="627.50,237.70 627.80,237.77 627.80,266.80 627.50,266.80" fill="#d8d850" stroke="#d8d850"/>
<polygon points="627.80,237.77 631.70,238.69 631.70,266.80 627.80,266.80" fill="#20d020" stroke="#20d020"/>
<polygon points="631.70,238.69 636.10,239.72 636.10,266.80 631.70,266.80" fill="#80e0c0" stroke="#80e0c0"/>
<polygon points="636.10,239.72 639.00,240.40 639.00,266.80 636.10,266.80" fill="#50e070" stroke="#50e070"/>
<polygon points="639.00,240.40 640.90,241.27 640.90,266.80 639.00,266.80" fill="#50e070" stroke="#50e070"/>
<polygon points="640.90,241.27 644.80,243.04 644.80,266.80 640.90,266.80" fill="#70e0e0" stroke="#70e0e0"/>
<polygon points="644.80,243.04 647.60,244.32 647.60,266.80 644.80,266.80" fill="#30d840" stroke="#30d840"/>
<polygon points="647.60,244.32 648.00,244.50 648.00,266.80 647.60,266.80" fill="#60d8d8" stroke="#60d8d8"/>
<polygon points="648.00,244.50 651.00,247.54 651.00,266.80 648.00,266.80" fill="#60d8d8" stroke="#60d8d8"/>
<polygon points="651.00,247.54 654.80,251.39 654.80,266.80 651.00,266.80" fill="#20e0e0" stroke="#20e0e0"/>
<polygon points="654.80,251.39 655.80,252.40 655.80,266.80 654.80,266.80" fill="#50e0e0" stroke="#50e0e0"/>
<polygon points="655.80,252.40 657.70,253.35 657.70,266.80 655.80,266.80" fill="#50e0e0" stroke="#50e0e0"/>
<polygon points="657.70,253.35 662.60,255.80 662.60,266.80 657.70,266.80" fill="#80e0d8" stroke="#80e0d8"/>
<polygon points="662.60,255.80 665.50,257.25 665.50,266.80 662.60,266.80" fill="#90e0c0" stroke="#90e0c0"/>
<polygon points="665.50,257.25 668.40,257.25 668.40,266.80 665.50,266.80" fill="#60e080" stroke="#60e080"/>
<polygon points="668.40,257.25 681.10,257.25 681.10,266.80 668.40,266.80" fill="#10d010" stroke="#10d010"/>
<polygon points="681.10,257.25 685.00,257.70 685.00,266.80 681.10,266.80" fill="#80e0b0" stroke="#80e0b0"/>
<polygon points="685.00,257.70 691.90,254.80 691.90,266.80 685.00,266.80" fill="#d0e068" stroke="#d0e068"/>
<polygon points="691.90,254.80 692.40,254.93 692.40,266.80 691.90,266.80" fill="#d0e068" stroke="#d0e068"/>
<polygon points="692.40,254.93 693.80,255.30 693.80,266.80 692.40,266.80" fill="#20d020" stroke="#20d020"/>
<polygon points="693.80,255.30 694.80,254.56 694.80,266.80 693.80,266.80" fill="#20d020" stroke="#20d020"/>
<polygon points="694.80,254.56 697.70,252.40 697.70,266.80 694.80,266.80" fill="#d8e070" stroke="#d8e070"/>
<polygon points="697.70,252.40 698.70,252.53 698.70,266.80 697.70,266.80" fill="#d8e070" stroke="#d8e070"/>
<polygon points="698.70,252.53 701.60,252.90 701.60,266.80 698.70,266.80" fill="#20d020" stroke="#20d020"/>
<polygon points="701.60,252.90 702.60,253.31 702.60,266.80 701.60,266.80" fill="#20d020" stroke="#20d020"/>
<polygon points="702.60,253.31 707.00,255.10 707.00,266.80 702.60,266.80" fill="#80e0d8" stroke="#80e0d8"/>
<polygon points="707.00,255.10 711.90,257.09 711.90,266.80 707.00,266.80" fill="#50e080" stroke="#50e080"/>
<polygon points="711.90,257.09 713.40,257.70 713.40,266.80 711.90,266.80" fill="#80e0d0" stroke="#80e0d0"/>
<polygon points="713.40,257.70 714.80,257.64 714.80,266.80 713.40,266.80" fill="#80e0d0" stroke="#80e0d0"/>
<polygon points="714.80,257.64 723.10,257.25 723.10,266.80 714.80,266.80" fill="#10d010" stroke="#10d010"/>
<polygon points="723.10,257.25 730.00,258.20 730.00,266.80 723.10,266.80" fill="#20d830" stroke="#20d830"/>
<polygon points="730.00,258.20 730.90,258.12 730.90,266.80 730.00,266.80" fill="#20d830" stroke="#20d830"/>
<polygon points="730.90,258.12 735.80,257.70 735.80,266.80 730.90,266.80" fill="#30d830" stroke="#30d830"/>
<polygon points="735.80,257.70 746.20,257.25 746.20,266.80 735.80,266.80" fill="#10d010" stroke="#10d010"/>
<polygon points="746.20,257.25 746.70,256.77 746.70,266.80 746.20,266.80" fill="#10d010" stroke="#10d010"/>
<polygon points="746.70,256.77 747.20,256.30 747.20,266.80 746.70,266.80" fill="#e0e040" stroke="#e0e040"/>
<polygon points="747.20,256.30 755.00,250.90 755.00,266.80 747.20,266.80" fill="#e0e040" stroke="#e0e040"/>
<polygon points="755.00,250.90 755.50,251.20 755.50,266.80 755.00,266.80" fill="#e0e040" stroke="#e0e040"/>
<polygon points="755.50,251.20 757.90,252.61 757.90,266.80 755.50,266.80" fill="#60d860" stroke="#60d860"/>
<polygon points="757.90,252.61 763.30,255.80 763.30,266.80 757.90,266.80" fill="#50e0e0" stroke="#50e0e0"/>
<polygon points="763.30,255.80 763.80,255.61 763.80,266.80 763.30,266.80" fill="#50e0e0" stroke="#50e0e0"/>
<polygon points="763.80,255.61 766.25,254.67 766.25,266.80 763.80,266.80" fill="#20d020" stroke="#20d020"/>
<polygon points="766.25,254.67 767.20,254.30 767.20,266.80 766.25,266.80" fill="#a0d860" stroke="#a0d860"/>
<polygon points="767.20,254.30 768.70,254.52 768.70,266.80 767.20,266.80" fill="#a0d860" stroke="#a0d860"/>
<polygon points="768.70,254.52 774.00,255.30 774.00,266.80 768.70,266.80" fill="#30d030" stroke="#30d030"/>
<polygon points="774.00,255.30 775.00,255.20 775.00,266.80 774.00,266.80" fill="#30d030" stroke="#30d030"/>
<polygon points="775.00,255.20 778.00,254.89 778.00,266.80 775.00,266.80" fill="#70e0c0" stroke="#70e0c0"/>
<polygon points="778.00,254.89 778.90,254.80 778.90,266.80 778.00,266.80" fill="#c8d870" stroke="#c8d870"/>
<polygon points="778.90,254.80 780.90,255.30 780.90,266.80 778.90,266.80" fill="#c8d870" stroke="#c8d870"/>
<polygon points="780.90,255.30 782.90,255.80 782.90,266.80 780.90,266.80" fill="#70e0d8" stroke="#70e0d8"/>
<polygon points="782.90,255.80 783.80,255.52 783.80,266.80 782.90,266.80" fill="#70e0d8" stroke="#70e0d8"/>
<polygon points="783.80,255.52 787.70,254.30 787.70,266.80 783.80,266.80" fill="#b0e060" stroke="#b0e060"/>
<polygon points="787.70,254.30 788.20,254.40 788.20,266.80 787.70,266.80" fill="#b0e060" stroke="#b0e060"/>
<polygon points="788.20,254.40 791.60,255.05 791.60,266.80 788.20,266.80" fill="#20d020" stroke="#20d020"/>
<polygon points="791.60,255.05 794.60,255.63 794.60,266.80 791.60,266.80" fill="#60e090" stroke="#60e090"/>
<polygon points="794.60,255.63 795.50,255.80 795.50,266.80 794.60,266.80" fill="#20d020" stroke="#20d020"/>
<polygon points="795.50,255.80 797.50,256.54 797.50,266.80 795.50,266.80" fill="#20d020" stroke="#20d020"/>
<polygon points="797.50,256.54 800.40,257.61 800.40,266.80 797.50,266.80" fill="#70d8c8" stroke="#70d8c8"/>
<polygon points="800.40,257.61 807.30,260.16 807.30,266.80 800.40,266.80" fill="#80e0d0" stroke="#80e0d0"/>
<polygon points="807.30,260.16 811.20,261.60 811.20,266.80 807.30,266.80" fill="#70e0a0" stroke="#70e0a0"/>
<polygon points="811.20,261.60 815.00,262.60 815.00,266.80 811.20,266.80" fill="#40d850" stroke="#40d850"/>
<polygon points="815.00,262.60 833.80,262.60 833.80,266.80 815.00,266.80" fill="#10d010" stroke="#10d010"/>
<polygon points="833.80,262.60 834.80,261.86 834.80,266.80 833.80,266.80" fill="#10d010" stroke="#10d010"/>
<polygon points="834.80,261.86 835.70,261.20 835.70,266.80 834.80,266.80" fill="#60d850" stroke="#60d850"/>
<polygon points="835.70,261.20 837.70,260.77 837.70,266.80 835.70,266.80" fill="#60d850" stroke="#60d850"/>
<polygon points="837.70,260.77 842.60,259.70 842.60,266.80 837.70,266.80" fill="#90e060" stroke="#90e060"/>
<polygon points="842.60,259.70 848.40,261.86 848.40,266.80 842.60,266.80" fill="#20d020" stroke="#20d020"/>
<polygon points="848.40,261.86 850.40,262.60 850.40,266.80 848.40,266.80" fill="#70e0b0" stroke="#70e0b0"/>
<polygon points="850.40,262.60 853.30,262.60 853.30,266.80 850.40,266.80" fill="#70e0b0" stroke="#70e0b0"/>
<polygon points="853.30,262.60 866.00,262.60 866.00,266.80 853.30,266.80" fill="#10d010" stroke="#10d010"/>
<polygon points="866.00,262.60 867.00,262.99 867.00,266.80 866.00,266.80" fill="#10d010" stroke="#10d010"/>
<polygon points="867.00,262.99 874.80,266.00 874.80,266.80 867.00,266.80" fill="#70d8d0" stroke="#70d8d0"/>
<polygon points="874.80,266.00 932.60,266.00 932.60,266.80 874.80,266.80" fill="#10c810" stroke="#10c810"/>
<polygon points="932.60,266.00 940.40,262.60 940.40,266.80 932.60,266.80" fill="#c8c860" stroke="#c8c860"/>
<polygon points="940.40,262.60 959.90,262.60 959.90,266.80 940.40,266.80" fill="#10d010" stroke="#10d010"/>
<polygon points="959.90,262.60 968.20,262.60 968.20,266.80 959.90,266.80" fill="#10d010" stroke="#10d010"/>
<polygon points="968.20,262.60 977.50,262.60 977.50,266.80 968.20,266.80" fill="#10d010" stroke="#10d010"/>
<polygon points="977.50,262.60 985.30,261.51 985.30,266.80 977.50,266.80" fill="#50d840" stroke="#50d840"/>
<polygon points="985.30,261.51 994.60,260.20 994.60,266.80 985.30,266.80" fill="#30d830" stroke="#30d830"/>
</g>
<g fill="none" stroke="#203000" stroke-opacity="0.22" stroke-width="0.7">
<path d="M35.50,266.80 L35.50,258.00 L38.99,254.98"/>
<path d="M46.25,266.80 L46.25,256.50 L49.66,253.44"/>
<path d="M54.50,266.80 L54.50,255.48 L57.84,252.39"/>
<path d="M57.00,266.80 L57.00,255.77 L60.33,252.72"/>
<path d="M63.30,266.80 L63.30,258.70 L66.58,255.96"/>
<path d="M66.30,266.80 L66.30,257.53 L69.56,254.94"/>
<path d="M73.60,266.80 L73.60,256.83 L76.80,254.29"/>
<path d="M78.50,266.80 L78.50,256.67 L81.67,254.16"/>
<path d="M83.40,266.80 L83.40,256.50 L86.53,254.12"/>
<path d="M89.20,266.80 L89.20,252.85 L92.29,250.67"/>
<path d="M93.10,266.80 L93.10,250.40 L96.16,248.36"/>
<path d="M100.00,266.80 L100.00,243.94 L103.01,242.14"/>
<path d="M102.40,266.80 L102.40,242.55 L105.39,240.79"/>
<path d="M106.40,266.80 L106.40,241.17 L109.36,239.47"/>
<path d="M111.80,266.80 L111.80,239.51 L114.72,237.88"/>
<path d="M115.30,266.80 L115.30,238.43 L118.20,236.86"/>
<path d="M119.60,266.80 L119.60,237.40 L122.46,235.89"/>
<path d="M124.50,266.80 L124.50,240.60 L127.33,238.95"/>
<path d="M132.30,266.80 L132.30,237.23 L135.07,235.32"/>
<path d="M138.20,266.80 L138.20,236.19 L140.93,234.07"/>
<path d="M142.10,266.80 L142.10,235.71 L144.80,233.45"/>
<path d="M144.00,266.80 L144.00,235.77 L146.68,233.48"/>
<path d="M152.90,266.80 L152.90,237.30 L155.52,235.05"/>
<path d="M155.80,266.80 L155.80,236.49 L158.40,234.25"/>
<path d="M160.70,266.80 L160.70,235.12 L163.26,232.90"/>
<path d="M163.60,266.80 L163.60,234.68 L166.14,232.46"/>
<path d="M169.50,266.80 L169.50,237.44 L171.99,235.01"/>
<path d="M178.20,266.80 L178.20,245.00 L180.63,242.26"/>
<path d="M192.90,266.80 L192.90,258.70 L195.22,255.56"/>
<path d="M198.10,266.80 L198.10,259.59 L200.38,256.36"/>
<path d="M206.70,266.80 L206.70,260.40 L208.92,257.07"/>
<path d="M213.60,266.80 L213.60,261.20 L215.77,257.80"/>
<path d="M234.00,266.80 L234.00,262.60 L236.02,259.20"/>
<path d="M237.00,266.80 L237.00,262.60 L239.00,259.20"/>
<path d="M242.90,266.80 L242.90,260.05 L244.85,257.00"/>
<path d="M251.60,266.80 L251.60,256.30 L253.49,253.87"/>
<path d="M255.50,266.80 L255.50,255.50 L257.36,253.30"/>
<path d="M259.50,266.80 L259.50,254.69 L261.33,252.70"/>
<path d="M262.40,266.80 L262.40,254.68 L264.21,252.78"/>
<path d="M265.30,266.80 L265.30,255.80 L267.09,253.89"/>
<path d="M268.20,266.80 L268.20,255.18 L269.97,253.26"/>
<path d="M271.20,266.80 L271.20,254.75 L272.94,252.82"/>
<path d="M275.10,266.80 L275.10,254.60 L276.81,252.66"/>
<path d="M282.90,266.80 L282.90,254.30 L284.56,252.33"/>
<path d="M286.30,266.80 L286.30,255.42 L287.93,253.44"/>
<path d="M291.80,266.80 L291.80,251.26 L293.39,249.26"/>
<path d="M294.30,266.80 L294.30,251.59 L295.87,249.45"/>
<path d="M302.60,266.80 L302.60,257.67 L304.11,254.61"/>
<path d="M313.30,266.80 L313.30,257.53 L314.73,254.40"/>
<path d="M319.20,266.80 L319.20,258.08 L320.59,254.93"/>
<path d="M326.00,266.80 L326.00,257.40 L327.34,254.23"/>
<path d="M334.80,266.80 L334.80,257.70 L336.07,254.57"/>
<path d="M338.20,266.80 L338.20,255.40 L339.45,252.56"/>
<path d="M343.60,266.80 L343.60,253.37 L344.81,250.99"/>
<path d="M347.50,266.80 L347.50,251.90 L348.68,249.86"/>
<path d="M351.40,266.80 L351.40,253.49 L352.55,251.32"/>
<path d="M354.80,266.80 L354.80,254.52 L355.93,252.18"/>
<path d="M365.10,266.80 L365.10,256.14 L366.15,253.58"/>
<path d="M377.30,266.80 L377.30,258.05 L378.26,255.28"/>
<path d="M389.60,266.80 L389.60,259.92 L390.47,256.92"/>
<path d="M400.40,266.80 L400.40,261.57 L401.19,258.33"/>
<path d="M408.20,266.80 L408.20,262.60 L408.93,259.20"/>
<path d="M417.00,266.80 L417.00,262.60 L417.67,259.20"/>
<path d="M426.30,266.80 L426.30,262.60 L426.90,259.20"/>
<path d="M445.30,266.80 L445.30,262.60 L445.76,259.19"/>
<path d="M453.10,266.80 L453.10,265.60 L453.50,261.90"/>
<path d="M510.90,266.80 L510.90,265.80 L510.87,262.10"/>
<path d="M513.80,266.80 L513.80,264.44 L513.75,260.90"/>
<path d="M519.70,266.80 L519.70,262.60 L519.61,259.31"/>
<path d="M533.40,266.80 L533.40,262.60 L533.20,259.35"/>
<path d="M539.20,266.80 L539.20,260.62 L538.96,257.38"/>
<path d="M550.00,266.80 L550.00,259.70 L549.68,256.50"/>
<path d="M554.80,266.80 L554.80,258.13 L554.45,255.19"/>
<path d="M567.70,266.80 L567.70,245.69 L567.25,243.31"/>
<path d="M570.60,266.80 L570.60,244.86 L570.13,242.52"/>
<path d="M579.40,266.80 L579.40,236.21 L578.86,233.96"/>
<path d="M583.30,266.80 L583.30,234.60 L582.74,232.39"/>
<path d="M586.70,266.80 L586.70,234.95 L586.11,232.70"/>
<path d="M592.10,266.80 L592.10,236.98 L591.47,234.63"/>
<path d="M595.00,266.80 L595.00,236.47 L594.35,234.06"/>
<path d="M600.90,266.80 L600.90,235.53 L600.21,233.03"/>
<path d="M605.80,266.80 L605.80,235.89 L605.07,233.41"/>
<path d="M608.70,266.80 L608.70,236.10 L607.95,233.63"/>
<path d="M613.60,266.80 L613.60,236.72 L612.81,234.27"/>
<path d="M616.50,266.80 L616.50,237.88 L615.69,235.44"/>
<path d="M622.40,266.80 L622.40,239.76 L621.55,237.34"/>
<path d="M627.80,266.80 L627.80,237.77 L626.91,235.36"/>
<path d="M631.70,266.80 L631.70,238.69 L630.78,236.25"/>
<path d="M636.10,266.80 L636.10,239.72 L635.15,237.24"/>
<path d="M640.90,266.80 L640.90,241.27 L639.91,238.74"/>
<path d="M644.80,266.80 L644.80,243.04 L643.78,240.49"/>
<path d="M647.60,266.80 L647.60,244.32 L646.56,241.74"/>
<path d="M651.00,266.80 L651.00,247.54 L649.94,244.92"/>
<path d="M654.80,266.80 L654.80,251.39 L653.71,248.68"/>
<path d="M657.70,266.80 L657.70,253.35 L656.59,250.58"/>
<path d="M662.60,266.80 L662.60,255.80 L661.45,252.92"/>
<path d="M665.50,266.80 L665.50,257.25 L664.33,254.31"/>
<path d="M668.40,266.80 L668.40,257.25 L667.21,254.30"/>
<path d="M681.10,266.80 L681.10,257.25 L679.81,254.30"/>
<path d="M685.00,266.80 L685.00,257.70 L683.68,254.86"/>
<path d="M692.40,266.80 L692.40,254.93 L691.03,252.28"/>
<path d="M694.80,266.80 L694.80,254.56 L693.41,251.97"/>
<path d="M698.70,266.80 L698.70,252.53 L697.28,250.01"/>
<path d="M702.60,266.80 L702.60,253.31 L701.15,250.71"/>
<path d="M707.00,266.80 L707.00,255.10 L705.52,252.42"/>
<path d="M711.90,266.80 L711.90,257.09 L710.39,254.31"/>
<path d="M714.80,266.80 L714.80,257.64 L713.26,254.80"/>
<path d="M723.10,266.80 L723.10,257.25 L721.50,254.23"/>
<path d="M730.90,266.80 L730.90,258.12 L729.24,254.92"/>
<path d="M735.80,266.80 L735.80,257.70 L734.11,254.39"/>
<path d="M746.70,266.80 L746.70,256.77 L744.93,253.66"/>
<path d="M755.50,266.80 L755.50,251.20 L753.66,248.97"/>
<path d="M757.90,266.80 L757.90,252.61 L756.05,250.36"/>
<path d="M763.80,266.80 L763.80,255.61 L761.90,253.27"/>
<path d="M766.25,266.80 L766.25,254.67 L764.33,252.29"/>
<path d="M768.70,266.80 L768.70,254.52 L766.77,252.12"/>
<path d="M775.00,266.80 L775.00,255.20 L773.02,252.80"/>
<path d="M778.00,266.80 L778.00,254.89 L776.00,252.49"/>
<path d="M780.90,266.80 L780.90,255.30 L778.88,252.90"/>
<path d="M783.80,266.80 L783.80,255.52 L781.75,253.12"/>
<path d="M788.20,266.80 L788.20,254.40 L786.12,252.00"/>
<path d="M791.60,266.80 L791.60,255.05 L789.50,252.65"/>
<path d="M794.60,266.80 L794.60,255.63 L792.47,253.23"/>
<path d="M797.50,266.80 L797.50,256.54 L795.35,254.02"/>
<path d="M800.40,266.80 L800.40,257.61 L798.23,254.96"/>
<path d="M807.30,266.80 L807.30,260.16 L805.08,257.18"/>
<path d="M811.20,266.80 L811.20,261.60 L808.95,258.44"/>
<path d="M815.00,266.80 L815.00,262.60 L812.72,259.20"/>
<path d="M834.80,266.80 L834.80,261.86 L832.38,258.54"/>
<path d="M837.70,266.80 L837.70,260.77 L835.26,257.71"/>
<path d="M842.60,266.80 L842.60,259.70 L840.12,257.00"/>
<path d="M848.40,266.80 L848.40,261.86 L845.88,258.69"/>
<path d="M853.30,266.80 L853.30,262.60 L850.74,259.28"/>
<path d="M867.00,266.80 L867.00,262.99 L864.34,259.54"/>
<path d="M874.80,266.80 L874.80,266.00 L872.08,262.21"/>
<path d="M932.60,266.80 L932.60,266.00 L929.45,262.23"/>
<path d="M940.40,266.80 L940.40,262.60 L937.20,259.20"/>
<path d="M959.90,266.80 L959.90,262.60 L956.55,259.20"/>
<path d="M968.20,266.80 L968.20,262.60 L964.79,259.20"/>
<path d="M977.50,266.80 L977.50,262.60 L974.02,259.21"/>
<path d="M985.30,266.80 L985.30,261.51 L981.76,258.25"/>
</g>
<path d="M19.10,260.20 L35.50,258.00 L46.25,256.50 L56.00,255.30 L63.30,258.70 L66.00,257.60 L68.70,257.00 L83.40,256.50 L93.10,250.40 L100.90,243.10 L105.00,241.60 L119.30,237.20 L124.50,240.60 L133.30,236.80 L143.00,235.60 L152.90,237.30 L162.90,234.50 L167.50,235.70 L178.20,245.00 L192.90,258.70 L198.75,259.70 L205.00,260.20 L213.60,261.20 L214.50,262.60 L237.00,262.60 L251.60,256.30 L261.40,254.30 L265.30,255.80 L270.00,254.80 L282.90,254.30 L285.80,255.80 L292.80,250.50 L302.10,257.25 L303.00,258.00 L314.00,257.50 L319.00,258.10 L327.00,257.30 L334.80,257.70 L335.80,256.30 L347.50,251.90 L353.40,254.30 L375.00,257.70 L407.20,262.60 L445.30,262.60 L446.30,263.10 L453.10,265.60 L475.00,265.70 L510.90,265.80 L517.70,262.60 L533.40,262.60 L538.20,260.70 L550.00,259.70 L555.50,257.90 L565.90,246.20 L570.80,244.80 L578.70,236.50 L584.50,234.10 L592.00,237.00 L600.50,235.50 L612.80,236.40 L621.80,240.00 L627.50,237.70 L639.00,240.40 L648.00,244.50 L655.80,252.40 L665.50,257.25 L681.10,257.25 L685.00,257.70 L691.90,254.80 L693.80,255.30 L697.70,252.40 L701.60,252.90 L713.40,257.70 L723.10,257.25 L730.00,258.20 L735.80,257.70 L746.20,257.25 L747.20,256.30 L755.00,250.90 L763.30,255.80 L767.20,254.30 L774.00,255.30 L778.90,254.80 L782.90,255.80 L787.70,254.30 L795.50,255.80 L811.20,261.60 L815.00,262.60 L833.80,262.60 L835.70,261.20 L842.60,259.70 L850.40,262.60 L866.00,262.60 L874.80,266.00 L932.60,266.00 L940.40,262.60 L977.50,262.60 L994.60,260.20" fill="none" stroke="#3c3000" stroke-opacity="0.4" stroke-width="0.8" stroke-linejoin="round"/>
<g>
<rect x="20.40" y="266.8" width="65.20" height="2.9" fill="#dedede"/>
<rect x="85.60" y="266.8" width="65.30" height="2.9" fill="#2a2a2a"/>
<rect x="150.90" y="266.8" width="66.40" height="2.9" fill="#dedede"/>
<rect x="217.30" y="266.8" width="65.10" height="2.9" fill="#2a2a2a"/>
<rect x="282.40" y="266.8" width="65.90" height="2.9" fill="#dedede"/>
<rect x="348.30" y="266.8" width="65.80" height="2.9" fill="#2a2a2a"/>
<rect x="414.10" y="266.8" width="66.00" height="2.9" fill="#dedede"/>
<rect x="480.10" y="266.8" width="65.95" height="2.9" fill="#2a2a2a"/>
<rect x="546.05" y="266.8" width="66.05" height="2.9" fill="#dedede"/>
<rect x="612.10" y="266.8" width="65.10" height="2.9" fill="#2a2a2a"/>
<rect x="677.20" y="266.8" width="65.80" height="2.9" fill="#dedede"/>
<rect x="743.00" y="266.8" width="65.20" height="2.9" fill="#2a2a2a"/>
<rect x="808.20" y="266.8" width="65.60" height="2.9" fill="#dedede"/>
<rect x="873.80" y="266.8" width="65.60" height="2.9" fill="#2a2a2a"/>
<rect x="939.40" y="266.8" width="54.50" height="2.9" fill="#dedede"/>
<rect x="20.4" y="269.1" width="973.5" height="0.6" fill="#000" fill-opacity="0.18"/>
</g>
<g class="xl" text-anchor="middle">
<text x="20.7" y="286">0km</text>
<text x="86.2" y="285">2km</text>
<text x="151.5" y="285">4km</text>
<text x="217.9" y="285">6km</text>
<text x="283.0" y="285">8km</text>
<text x="348.0" y="285">10km</text>
<text x="413.8" y="285">12km</text>
<text x="479.8" y="285">14km</text>
<text x="545.8" y="285">16km</text>
<text x="611.8" y="285">18km</text>
<text x="676.9" y="285">20km</text>
<text x="742.7" y="285">22km</text>
<text x="807.9" y="285">24km</text>
<text x="873.5" y="285">26km</text>
<text x="939.1" y="285">28km</text>
</g>
</svg>
<svg class="prof" width="1024" height="512" viewBox="0 0 1024 512">
<defs>
<linearGradient id="lgr" x1="0" y1="0" x2="0" y2="1">
<stop offset="0" stop-color="#500000"/>
<stop offset="0.09" stop-color="#800000"/>
<stop offset="0.2" stop-color="#d80000"/>
<stop offset="0.28" stop-color="#e87000"/>
<stop offset="0.36" stop-color="#e8e810"/>
<stop offset="0.44" stop-color="#c8b870"/>
<stop offset="0.485" stop-color="#10c810"/>
<stop offset="0.515" stop-color="#10c810"/>
<stop offset="0.56" stop-color="#80c8c8"/>
<stop offset="0.64" stop-color="#00e8e8"/>
<stop offset="0.72" stop-color="#0080e0"/>
<stop offset="0.8" stop-color="#0000d8"/>
<stop offset="0.9" stop-color="#4010a0"/>
<stop offset="1" stop-color="#803080"/>
</linearGradient>
</defs>
<rect x="1002" y="375" width="13" height="128" fill="url(#lgr)"/>
<g class="lg" text-anchor="end">
<text x="996" y="379">25%</text>
<text x="996" y="416.7">10%</text>
<text x="996" y="442.5">0%</text>
<text x="996" y="468.5">-10%</text>
<text x="996" y="506.5">-25%</text>
</g>
</svg>
<svg class="logo" width="300" height="72" viewBox="0 440 300 72"><text y="501.6" x="4.7 33.1 64.3 77.7" fill="#000" stroke="#000">velo<tspan x="106.5 138.7 151.3 185.2 226.2 256.3" fill="#fa0832" stroke="#fa0832">viewer</tspan></text></svg>
<div class="pw">POWERED BY</div>
<svg class="strava" width="130" height="40" viewBox="295 475 130 40"><text y="501.9" x="305.7 324.5 341.3 360.0 377.0 389.8">STRAVA</text></svg>
</body>
</html>
